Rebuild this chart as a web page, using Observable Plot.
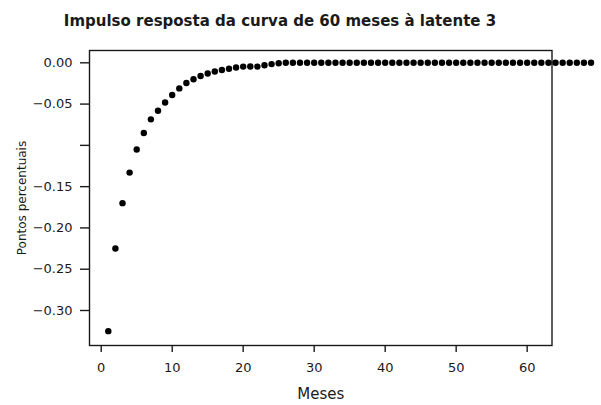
<!DOCTYPE html>
<html>
<head>
<meta charset="utf-8">
<script src="https://cdn.jsdelivr.net/npm/d3@7"></script>
<script src="https://cdn.jsdelivr.net/npm/@observablehq/plot@0.6"></script>
<style>
  html, body { margin: 0; padding: 0; background: #fff; }
  #wrap { width: 601px; height: 405px; overflow: hidden; }
  #titulo {
    width: 560px; height: 40px; box-sizing: border-box; padding-top: 12px;
    text-align: center; font-family: "DejaVu Sans", sans-serif; font-weight: bold;
    font-size: 15px; line-height: normal; color: #1a1a1a; white-space: nowrap;
  }
  svg { display: block; }
</style>
</head>
<body>
<div id="wrap">
  <div id="titulo">Impulso resposta da curva de 60 meses à latente 3</div>
  <div id="grafico"></div>
</div>
<script>
// Resposta ao impulso (pontos percentuais) para cada mês, a partir do mês 1
const respostas = [
  -0.325, -0.225, -0.170, -0.133, -0.105, -0.085, -0.0685, -0.058, -0.048, -0.039,
  -0.031, -0.0245, -0.020, -0.016, -0.013, -0.0105, -0.0088, -0.0072, -0.0056, -0.0046,
  -0.0044, -0.0046, -0.0030, -0.0016, -0.0006, 0, 0, 0, 0, 0,
  0, 0, 0, 0, 0, 0, 0, 0, 0, 0,
  0, 0, 0, 0, 0, 0, 0, 0, 0, 0,
  0, 0, 0, 0, 0, 0, 0, 0, 0, 0,
  0, 0, 0, 0, 0, 0, 0, 0, 0
];
const ticksX = [0, 10, 20, 30, 40, 50, 60];
const ticksY = [0, -0.05, -0.10, -0.15, -0.20, -0.25, -0.30];
// rótulos do eixo y (o de -0.10 fica sem texto)
const rotulosY = ["0.00", "\u22120.05", "", "\u22120.15", "\u22120.20", "\u22120.25", "\u22120.30"];

const dados = respostas.map((v, i) => ({mes: i + 1, valor: v}));
const fonte = "DejaVu Sans, sans-serif";
const cor = "#1a1a1a";

const grafico = Plot.plot({
  width: 601,
  height: 365,
  marginTop: 10,
  marginBottom: 60,
  marginLeft: 89,
  marginRight: 49.5,
  style: {fontFamily: fonte, fontSize: "13px", color: cor, background: "#fff"},
  x: {domain: [-1.65, 63.5]},
  y: {domain: [-0.3424, 0.0149]},
  marks: [
    Plot.frame({stroke: cor, strokeWidth: 1.4}),
    Plot.axisX({
      ticks: ticksX, tickSize: 7, tickPadding: 10, strokeWidth: 1.4,
      tickFormat: d => String(d), label: null, fontSize: 13, fill: cor
    }),
    Plot.axisY({
      ticks: ticksY, tickSize: 9, tickPadding: 8, strokeWidth: 1.4,
      tickFormat: d => rotulosY[ticksY.findIndex(t => Math.abs(t - d) < 1e-9)],
      label: null, fontSize: 13, fill: cor
    }),
    Plot.text(["Pontos percentuais"], {
      frameAnchor: "left", dx: -67, rotate: -90, textAnchor: "middle",
      fontSize: 12, fill: cor, fontFamily: fonte
    }),
    Plot.text(["Meses"], {
      frameAnchor: "bottom", dy: 53, textAnchor: "middle", lineAnchor: "bottom",
      fontSize: 15, fill: cor, fontFamily: fonte
    }),
    Plot.dot(dados, {x: "mes", y: "valor", r: 3.2, fill: "#000", stroke: "none", clip: false})
  ]
});
document.getElementById("grafico").appendChild(grafico);
</script>
</body>
</html>
